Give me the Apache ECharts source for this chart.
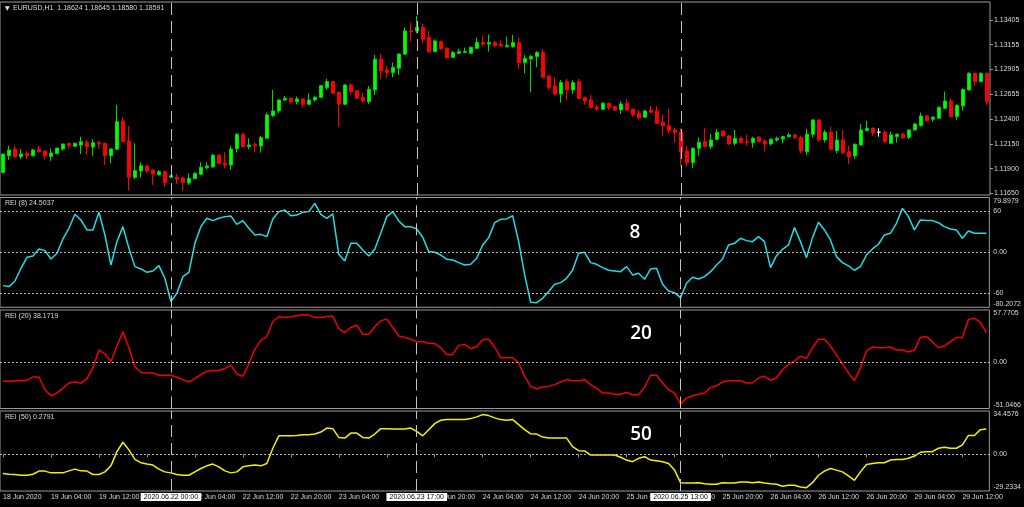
<!DOCTYPE html>
<html><head><meta charset="utf-8">
<script src="https://cdn.jsdelivr.net/npm/echarts@6/dist/echarts.min.js"></script>
<style>html,body{margin:0;padding:0;background:#000;}#c{width:1024px;height:507px;}</style>
</head><body><div id="c"></div>
<script>
// ---- time axis (hourly bars, weekend gap removed) ----
const sessions = [['18 Jun',20,23],['19 Jun',0,23],['22 Jun',0,23],['23 Jun',0,23],['24 Jun',0,23],['25 Jun',0,23],['26 Jun',0,23],['29 Jun',0,16]];
const categories = [];
sessions.forEach(([d,a,b]) => { for (let h=a; h<=b; h++) categories.push(d + ' ' + String(h).padStart(2,'0') + ':00'); });
const firstTickLabel = '18 Jun 2020';

// ---- EURUSD H1 candles ----
const opens = [
1.11859,1.12031,1.12099,1.12021,1.12055,1.12031,1.12096,1.12079,1.12024,1.12052,
1.12099,1.12156,1.12126,1.12139,1.12166,1.12119,1.12163,1.12156,1.12031,1.12096,
1.12383,1.12180,1.11812,1.11876,1.11927,1.11886,1.11839,1.11869,1.11812,1.11812,
1.11805,1.11755,1.11799,1.11842,1.11910,1.11917,1.12038,1.11954,1.11937,1.12102,
1.12248,1.12123,1.12143,1.12129,1.12207,1.12437,1.12484,1.12595,1.12612,1.12578,
1.12605,1.12551,1.12595,1.12622,1.12720,1.12781,1.12673,1.12551,1.12747,1.12687,
1.12619,1.12578,1.12697,1.13007,1.12899,1.12872,1.12916,1.13058,1.13294,1.13294,
1.13331,1.13227,1.13085,1.13186,1.13118,1.13027,1.13068,1.13075,1.13068,1.13118,
1.13176,1.13162,1.13176,1.13159,1.13135,1.13135,1.13176,1.12974,1.13010,1.13034,
1.13075,1.12838,1.12737,1.12656,1.12781,1.12697,1.12781,1.12619,1.12595,1.12521,
1.12501,1.12562,1.12528,1.12494,1.12562,1.12501,1.12460,1.12420,1.12494,1.12484,
1.12369,1.12335,1.12291,1.12268,1.12079,1.11961,1.12106,1.12173,1.12123,1.12197,
1.12281,1.12231,1.12156,1.12207,1.12173,1.12163,1.12217,1.12180,1.12150,1.12190,
1.12200,1.12224,1.12241,1.12217,1.12072,1.12248,1.12393,1.12190,1.12268,1.12082,
1.12190,1.12072,1.12028,1.12139,1.12285,1.12308,1.12268,1.12268,1.12156,1.12224,
1.12248,1.12217,1.12291,1.12335,1.12433,1.12400,1.12410,1.12511,1.12585,1.12427,
1.12535,1.12697,1.12865,1.12781,1.12865];
const closes = [
1.12048,1.12089,1.12021,1.12048,1.12031,1.12089,1.12072,1.12031,1.12058,1.12109,
1.12150,1.12133,1.12156,1.12173,1.12119,1.12163,1.12150,1.12035,1.12099,1.12376,
1.12173,1.11812,1.11879,1.11930,1.11876,1.11846,1.11869,1.11758,1.11829,1.11795,
1.11758,1.11802,1.11852,1.11913,1.11927,1.12035,1.11951,1.11937,1.12099,1.12248,
1.12123,1.12139,1.12129,1.12214,1.12444,1.12484,1.12595,1.12612,1.12578,1.12605,
1.12551,1.12595,1.12622,1.12740,1.12781,1.12663,1.12555,1.12747,1.12680,1.12612,
1.12585,1.12703,1.13007,1.12889,1.12872,1.12923,1.13061,1.13294,1.13287,1.13331,
1.13210,1.13085,1.13193,1.13112,1.13024,1.13075,1.13085,1.13085,1.13128,1.13176,
1.13162,1.13176,1.13146,1.13142,1.13146,1.13176,1.12974,1.13017,1.13034,1.13075,
1.12825,1.12724,1.12656,1.12771,1.12697,1.12771,1.12612,1.12585,1.12518,1.12504,
1.12562,1.12518,1.12494,1.12555,1.12494,1.12444,1.12416,1.12484,1.12470,1.12359,
1.12335,1.12285,1.12268,1.12072,1.11961,1.12106,1.12166,1.12123,1.12190,1.12268,
1.12231,1.12150,1.12207,1.12163,1.12166,1.12207,1.12173,1.12150,1.12197,1.12207,
1.12224,1.12241,1.12214,1.12079,1.12248,1.12393,1.12190,1.12268,1.12096,1.12190,
1.12062,1.12021,1.12146,1.12291,1.12308,1.12264,1.12268,1.12173,1.12241,1.12248,
1.12214,1.12291,1.12352,1.12433,1.12386,1.12420,1.12521,1.12585,1.12427,1.12541,
1.12703,1.12865,1.12781,1.12865,1.12578];
const lows = [
1.11859,1.11988,1.12004,1.11995,1.11995,1.12021,1.12062,1.11995,1.11978,1.12048,
1.12082,1.12102,1.12123,1.12048,1.12038,1.12028,1.12099,1.11937,1.11954,1.12096,
1.12173,1.11677,1.11792,1.11809,1.11859,1.11734,1.11829,1.11717,1.11802,1.11744,
1.11677,1.11734,1.11795,1.11835,1.11893,1.11910,1.11944,1.11903,1.11886,1.12062,
1.12113,1.12099,1.12065,1.12062,1.12207,1.12420,1.12460,1.12585,1.12548,1.12551,
1.12521,1.12545,1.12578,1.12615,1.12697,1.12663,1.12325,1.12545,1.12646,1.12602,
1.12568,1.12555,1.12646,1.12808,1.12822,1.12825,1.12849,1.13058,1.13186,1.13270,
1.13169,1.13068,1.13078,1.13102,1.13010,1.13024,1.13061,1.13068,1.13068,1.13108,
1.13142,1.13085,1.13125,1.13135,1.13125,1.13125,1.12909,1.12865,1.12673,1.12926,
1.12815,1.12697,1.12639,1.12568,1.12595,1.12656,1.12605,1.12545,1.12511,1.12484,
1.12494,1.12494,1.12484,1.12453,1.12487,1.12427,1.12400,1.12416,1.12460,1.12352,
1.12234,1.12258,1.12166,1.11930,1.11920,1.11903,1.12031,1.12116,1.12099,1.12190,
1.12224,1.12139,1.12133,1.12156,1.12133,1.12113,1.12166,1.12072,1.12133,1.12173,
1.12156,1.12217,1.12200,1.12055,1.12038,1.12217,1.12173,1.12163,1.12082,1.12055,
1.12045,1.11944,1.11998,1.12133,1.12281,1.12231,1.12224,1.12163,1.12150,1.12163,
1.12200,1.12200,1.12285,1.12325,1.12376,1.12376,1.12410,1.12501,1.12420,1.12393,
1.12484,1.12690,1.12737,1.12771,1.12545];
const highs = [
1.12048,1.12133,1.12133,1.12099,1.12075,1.12099,1.12133,1.12079,1.12106,1.12109,
1.12150,1.12163,1.12163,1.12224,1.12190,1.12197,1.12183,1.12156,1.12106,1.12545,
1.12420,1.12332,1.12156,1.11964,1.11937,1.11893,1.11886,1.11879,1.11835,1.11846,
1.11819,1.11852,1.11862,1.11964,1.11964,1.12048,1.12045,1.12065,1.12129,1.12258,
1.12264,1.12207,1.12166,1.12231,1.12467,1.12697,1.12605,1.12636,1.12622,1.12629,
1.12612,1.12663,1.12639,1.12747,1.12808,1.12788,1.12673,1.12757,1.12764,1.12697,
1.12670,1.12737,1.13051,1.13061,1.12940,1.12974,1.13061,1.13331,1.13378,1.13446,
1.13365,1.13294,1.13210,1.13196,1.13128,1.13091,1.13112,1.13125,1.13135,1.13227,
1.13247,1.13260,1.13196,1.13196,1.13237,1.13254,1.13230,1.13051,1.13051,1.13091,
1.13108,1.12849,1.12822,1.12798,1.12808,1.12798,1.12808,1.12629,1.12646,1.12545,
1.12572,1.12568,1.12535,1.12585,1.12602,1.12511,1.12494,1.12494,1.12535,1.12535,
1.12450,1.12504,1.12315,1.12308,1.12133,1.12113,1.12217,1.12315,1.12251,1.12301,
1.12281,1.12241,1.12291,1.12224,1.12241,1.12224,1.12231,1.12197,1.12207,1.12224,
1.12234,1.12264,1.12251,1.12231,1.12301,1.12400,1.12400,1.12291,1.12325,1.12281,
1.12291,1.12133,1.12156,1.12352,1.12383,1.12318,1.12308,1.12291,1.12275,1.12258,
1.12268,1.12298,1.12366,1.12467,1.12444,1.12433,1.12528,1.12680,1.12612,1.12551,
1.12710,1.12875,1.12875,1.12872,1.12872];

// ---- REI indicators ----
const rei8 = [
-48.6,-50.0,-41.8,-23.3,-7.3,-5.3,4.9,2.4,-9.7,-1.5,
19.4,35.0,55.4,47.1,32.6,32.6,58.3,25.3,-18.5,15.5,
37.4,5.8,-20.9,-24.3,-29.2,-27.2,-19.4,-37.9,-71.9,-59.8,
-35.5,-29.2,13.1,37.4,49.6,46.2,49.6,52.0,53.0,40.8,
46.2,35.0,25.3,26.2,22.8,48.6,59.3,61.7,53.4,54.4,
58.3,59.3,71.4,55.4,49.6,55.9,-2.9,-12.6,13.1,13.1,
3.4,-5.3,4.4,27.7,52.0,59.3,45.7,37.4,37.4,34.0,
21.9,1.0,0,-3.9,-10.2,-11.2,-15.1,-18.5,-17.5,-8.7,
10.7,21.4,43.2,48.1,48.6,53.4,15.5,-33.0,-72.9,-73.4,
-67.1,-57.3,-46.6,-44.2,-37.9,-25.8,-1.5,0,-15.1,-17.5,
-22.4,-26.2,-27.2,-28.2,-20.9,-33.0,-30.6,-39.4,-24.3,-23.3,
-46.6,-56.4,-58.8,-66.1,-45.2,-36.4,-38.9,-35.5,-28.2,-18.5,
-9.7,10.7,13.1,20.4,17.0,15.5,22.8,15.5,-22.4,-4.9,
4.4,10.7,36.0,15.5,-7.8,21.4,43.7,32.6,18.0,-6.3,
-15.1,-19.9,-26.2,-20.9,-3.9,4.9,11.7,25.3,27.7,42.3,
64.1,52.0,32.6,47.1,46.2,46.2,43.2,37.4,34.0,32.6,
20.4,31.1,27.7,27.7,27.7];
const rei20 = [
-21.0,-21.0,-20.3,-20.3,-19.9,-16.2,-16.2,-30.3,-37.0,-34.0,
-28.5,-22.9,-21.8,-22.9,-18.1,-6.2,13.5,9.4,0.5,18.0,
33.6,16.1,-5.1,-11.0,-11.7,-11.7,-14.3,-14.3,-14.3,-16.6,
-19.2,-21.8,-18.1,-13.6,-9.9,-9.1,-9.1,-6.9,-3.2,-12.9,
-15.5,-1.7,14.3,24.3,28.4,45.1,50.3,49.6,50.3,51.4,
52.5,52.2,49.6,49.6,50.7,51.1,37.3,32.9,38.4,41.0,
31.0,31.0,39.2,45.9,47.7,38.4,29.1,27.3,25.4,22.8,
22.8,21.0,20.6,16.1,8.7,8.7,18.7,19.8,15.0,17.2,
25.0,25.4,16.9,5.0,5.0,5.0,-0.6,-15.5,-26.6,-29.2,
-27.4,-26.6,-24.7,-21.8,-19.2,-20.3,-20.3,-19.2,-24.7,-28.5,
-34.0,-34.0,-35.2,-35.2,-33.3,-35.9,-35.9,-27.4,-14.3,-14.3,
-22.9,-30.3,-34.0,-45.9,-39.6,-37.0,-35.2,-34.0,-27.7,-25.9,
-21.8,-20.3,-20.3,-20.3,-22.9,-22.9,-17.3,-15.5,-19.9,-17.3,
-8.0,-2.5,1.3,6.8,4.2,16.1,25.4,25.4,18.0,8.0,
-1.7,-11.7,-20.3,-6.2,12.4,16.9,16.1,16.1,16.9,13.5,
13.5,11.3,13.5,27.3,28.4,22.8,16.1,17.9,22.8,27.3,
27.3,47.0,48.8,44.0,32.9];
const rei50 = [
-15.3,-15.9,-16.1,-16.7,-16.7,-15.9,-13.4,-13.4,-14.8,-14.8,
-14.8,-13.2,-11.8,-13.2,-13.4,-16.1,-16.1,-14.0,-9.2,2.1,
9.6,3.5,-4.1,-6.7,-7.8,-8.6,-11.8,-14.0,-14.8,-16.1,
-16.7,-16.7,-14.0,-11.3,-9.2,-7.8,-10.0,-13.2,-14.8,-14.0,
-10.0,-9.2,-8.6,-9.2,-7.3,4.8,14.7,14.7,14.7,15.0,
15.5,15.5,16.1,17.7,20.9,20.4,13.4,12.9,16.9,16.9,
13.4,12.9,16.1,20.4,20.4,20.1,20.1,20.1,20.9,18.2,
14.7,19.6,24.4,27.1,27.6,27.6,27.6,27.6,28.4,29.8,
31.6,30.8,29.0,27.6,27.1,27.6,23.6,19.6,16.3,16.1,
13.7,12.9,12.9,12.9,12.9,6.1,2.9,2.7,-0.6,-0.6,
-0.6,-0.6,-0.6,-2.4,-4.6,-5.9,-3.2,-1.9,-4.6,-5.1,
-5.9,-7.3,-12.6,-22.6,-22.8,-22.8,-22.6,-23.4,-23.9,-23.9,
-22.6,-22.8,-22.8,-22.0,-22.0,-22.6,-22.0,-22.8,-23.4,-23.9,
-25.5,-24.7,-24.7,-26.1,-26.6,-22.6,-16.7,-13.4,-11.3,-12.6,
-14.0,-17.2,-20.7,-14.0,-8.1,-7.3,-6.7,-6.7,-4.6,-4.1,
-4.1,-3.2,-1.4,1.6,2.1,2.1,4.8,5.6,4.8,4.8,
7.5,15.0,15.0,19.6,20.1];

// ---- axis ticks / labels / texts ----
const priceTicks = [1.11650,1.11900,1.12150,1.12400,1.12655,1.12905,1.13155,1.13405];
const priceRange = [1.11633, 1.13587];
const rei8Range = [-80.2072, 79.8979], rei8Levels = [-60, 0, 60], rei8LevelLabels = ['-60','0.00','60'];
const rei20Range = [-51.0466, 57.7705], rei20Levels = [0], rei20LevelLabels = ['0.00'];
const rei50Range = [-29.2334, 34.4576], rei50Levels = [0], rei50LevelLabels = ['0.00'];
const markers = [
  {at:'22 Jun 00:00', label:'2020.06.22 00:00'},
  {at:'23 Jun 17:00', label:'2020.06.23 17:00'},
  {at:'25 Jun 13:00', label:'2020.06.25 13:00'}];
const headerText = 'EURUSD,H1  1.18624 1.18645 1.18580 1.18591';
const panelTitles = ['REI (8) 24.5037', 'REI (20) 38.1719', 'REI (50) 0.2791'];
const periodLabels = ['8', '20', '50'];

// ---- styling ----
const FONT = '"Liberation Sans", Arial, sans-serif';
const TXT = '#dadada';
const FRAME = '#9a9a9a';
const VLINE = '#c4c4c4';

const grids = [
  {left:0, width:990, top:2, height:193},
  {left:0, width:990, top:197.5, height:109.8},
  {left:0, width:990, top:310, height:98.5},
  {left:0, width:990, top:411, height:80}
].map(g => Object.assign({show:true, borderColor:FRAME, borderWidth:1, backgroundColor:'transparent'}, g));

const xAxes = grids.map((g, i) => ({
  type:'category', gridIndex:i, data:categories, boundaryGap:true,
  axisLine:{show:false}, splitLine:{show:false},
  axisTick:{show:i===3, interval:7, length:3, alignWithLabel:true, lineStyle:{color:FRAME}},
  axisLabel:{show:i===3, interval:7, align:'left', margin:3, fontSize:7, color:TXT, fontFamily:FONT,
    formatter:(v, idx) => idx === 0 ? firstTickLabel : v}
}));

const lbl = {fontSize:7, color:TXT, fontFamily:FONT, margin:4};
const yAxes = [{
  type:'value', gridIndex:0, position:'right', min:priceRange[0], max:priceRange[1],
  splitLine:{show:false}, axisLine:{show:false},
  axisTick:{show:true, customValues:priceTicks, length:3, lineStyle:{color:FRAME}},
  axisLabel:Object.assign({customValues:priceTicks, formatter:v => v.toFixed(5)}, lbl)
}];
function indAxes(gi, range, levels, levelLabels) {
  const base = {type:'value', gridIndex:gi, position:'right', offset:0, min:range[0], max:range[1],
    splitLine:{show:false}, axisLine:{show:false}, axisTick:{show:false}};
  return [
    Object.assign({}, base, {axisLabel:Object.assign({customValues:levels,
      formatter:v => levelLabels[levels.indexOf(v)] ?? String(v)}, lbl)}),
    Object.assign({}, base, {axisLabel:Object.assign({customValues:[range[1]], verticalAlign:'top',
      formatter:() => range[1].toFixed(4)}, lbl)}),
    Object.assign({}, base, {axisLabel:Object.assign({customValues:[range[0]], verticalAlign:'bottom',
      formatter:() => range[0].toFixed(4)}, lbl)})
  ];
}
yAxes.push(...indAxes(1, rei8Range, rei8Levels, rei8LevelLabels));
yAxes.push(...indAxes(2, rei20Range, rei20Levels, rei20LevelLabels));
yAxes.push(...indAxes(3, rei50Range, rei50Levels, rei50LevelLabels));

function vLines(withLabel) {
  return markers.map(m => ({
    xAxis: categories.indexOf(m.at),
    lineStyle:{type:[12,6], color:VLINE, width:1},
    label: withLabel ? {show:true, position:'start', distance:2, formatter:m.label, color:'#000',
      backgroundColor:'#fff', padding:[1,3,0,3], fontSize:7, fontFamily:FONT} : {show:false}
  }));
}
function levelLines(levels) {
  return levels.map(v => ({yAxis:v, lineStyle:{type:[2,2], color:'#bcbcbc', width:1}, label:{show:false}}));
}
function markLine(data) {
  return {silent:true, symbol:['none','none'], animation:false, data};
}

const candleData = categories.map((c, i) => {
  const item = {value:[opens[i], closes[i], lows[i], highs[i]]};
  if (opens[i] === closes[i]) item.itemStyle = {color:'#ffffff', borderColor:'#ffffff', color0:'#ffffff', borderColor0:'#ffffff'};
  return item;
});

function indLine(name, data, gi, yIdx, color, levels, withLabel) {
  return {type:'line', name, xAxisIndex:gi, yAxisIndex:yIdx, data, showSymbol:false, symbol:'none',
    lineStyle:{color, width:1.5}, itemStyle:{color}, z:3,
    markLine: markLine(levelLines(levels).concat(vLines(withLabel)))};
}

const bigFont = '600 19px "Open Sans", "Noto Sans", sans-serif';
const graphics = [
  {type:'text', x:5, y:8, style:{text:'▼', fill:'#e6e6e6', font:'6px "DejaVu Sans"', verticalAlign:'middle', textVerticalAlign:'middle'}},
  {type:'text', x:13, y:8, style:{text:headerText, fill:TXT, font:'7px ' + FONT, verticalAlign:'middle', textVerticalAlign:'middle'}},
  {type:'text', x:5, y:203.5, style:{text:panelTitles[0], fill:TXT, font:'7px ' + FONT, verticalAlign:'middle', textVerticalAlign:'middle'}},
  {type:'text', x:5, y:316.5, style:{text:panelTitles[1], fill:TXT, font:'7px ' + FONT, verticalAlign:'middle', textVerticalAlign:'middle'}},
  {type:'text', x:5, y:417.5, style:{text:panelTitles[2], fill:TXT, font:'7px ' + FONT, verticalAlign:'middle', textVerticalAlign:'middle'}},
  {type:'text', x:635, y:233, style:{text:periodLabels[0], fill:'#ffffff', font:bigFont, align:'center', textAlign:'center', verticalAlign:'middle', textVerticalAlign:'middle'}},
  {type:'text', x:641, y:334, style:{text:periodLabels[1], fill:'#ffffff', font:bigFont, align:'center', textAlign:'center', verticalAlign:'middle', textVerticalAlign:'middle'}},
  {type:'text', x:641, y:435, style:{text:periodLabels[2], fill:'#ffffff', font:bigFont, align:'center', textAlign:'center', verticalAlign:'middle', textVerticalAlign:'middle'}}
];

const option = {
  backgroundColor:'#000',
  animation:false,
  grid: grids,
  xAxis: xAxes,
  yAxis: yAxes,
  graphic: graphics,
  series: [
    {type:'candlestick', name:'EURUSD,H1', xAxisIndex:0, yAxisIndex:0, data:candleData, barWidth:3,
      itemStyle:{color:'#00ff00', color0:'#ff0000', borderColor:'#00d800', borderColor0:'#ff0000', borderWidth:1},
      markLine: markLine(vLines(false))},
    indLine('REI (8)', rei8, 1, 1, '#22dde3', rei8Levels, false),
    indLine('REI (20)', rei20, 2, 4, '#f20000', rei20Levels, false),
    indLine('REI (50)', rei50, 3, 7, '#f2f200', rei50Levels, true)
  ]
};
const chart = echarts.init(document.getElementById('c'));
chart.setOption(option);
</script>
</body></html>
